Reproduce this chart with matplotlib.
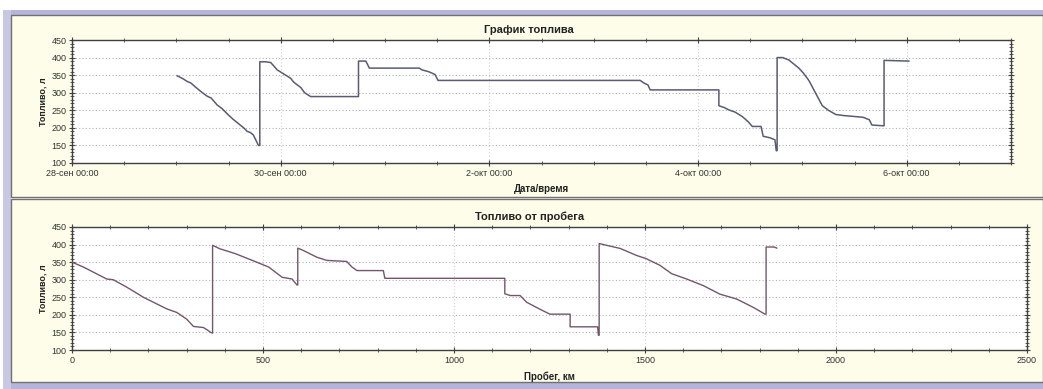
import datetime as dt
import matplotlib
matplotlib.use("Agg")
import matplotlib.pyplot as plt
import matplotlib.dates as mdates
from matplotlib.patches import Rectangle
from matplotlib.ticker import MultipleLocator, FuncFormatter

plt.rcParams["font.family"] = ["Liberation Sans", "DejaVu Sans"]

# -----------------------------------------------------------------------
# Data
# -----------------------------------------------------------------------
start_time = dt.datetime(2010, 9, 28, 0, 0)

# top chart: hours since 28-сен 00:00 and fuel level, litres
fuel_hours = [
    24.2, 25.5, 26.5, 27.3, 28.8, 30.0, 31.1, 32.0, 33.4, 34.5, 35.7, 37.0,
    38.0, 39.5, 40.3, 41.0, 41.7, 42.5, 42.9, 43.2, 43.2, 44.5, 45.7, 46.5,
    47.2, 48.5, 50.3, 51.0, 52.6, 53.5, 54.9, 65.9, 65.9, 67.6, 68.4, 79.9,
    80.5, 82.0, 83.5, 84.2, 130.7, 131.5, 132.5, 133.0, 148.8, 148.8, 150.0,
    151.1, 152.5, 154.2, 155.5, 156.5, 158.5, 159.0, 160.5, 161.7, 162.0,
    162.2, 162.2, 163.5, 164.9, 166.0, 167.2, 168.3, 169.5, 171.0, 172.6,
    174.0, 175.7, 177.5, 180.3, 182.0, 183.4, 184.0, 186.5, 186.8, 186.8,
    192.5,
]
fuel_by_time = [
    348, 340, 332, 328, 312, 300, 290, 285, 265, 255, 240, 225,
    215, 200, 190, 187, 180, 160, 150, 150, 388, 388, 386, 375,
    365, 355, 341, 330, 315, 300, 289, 289, 390, 390, 370, 370,
    365, 360, 352, 335, 335, 328, 322, 308, 308, 263, 258,
    251, 245, 232, 218, 204, 204, 176, 172, 166, 135,
    135, 400, 400, 393, 382, 370, 355, 335, 300, 263,
    250, 238, 235, 232, 230, 223, 208, 206, 206, 392,
    390,
]

# bottom chart: mileage, km and fuel level, litres
mileage_km = [
    0, 30, 73, 91, 108, 143, 187, 213, 248, 274, 300, 318, 344, 357, 363,
    368, 368, 387, 428, 472, 515, 550, 576, 589, 591, 591, 606, 641, 667,
    719, 733, 746, 815, 819, 1133, 1133, 1147, 1173, 1190, 1225, 1251, 1304,
    1304, 1376, 1378, 1380, 1380, 1391, 1435, 1478, 1503, 1539, 1570, 1609,
    1653, 1696, 1740, 1784, 1814, 1817, 1817, 1838, 1845,
]
fuel_by_km = [
    350, 336, 312, 302, 300, 279, 250, 236, 217, 207, 188, 167, 164, 155, 150,
    148, 398, 388, 374, 355, 336, 307, 302, 285, 285, 390, 383, 364, 355,
    352, 336, 326, 326, 304, 304, 260, 255, 255, 236, 216, 202, 202,
    166, 166, 142, 142, 403, 400, 389, 369, 360, 341, 317, 302,
    283, 259, 245, 221, 202, 202, 393, 393, 390,
]

ru_months = ["", "янв", "фев", "мар", "апр", "май", "июн",
             "июл", "авг", "сен", "окт", "ноя", "дек"]

W, H = 1043, 389
fig = plt.figure(figsize=(W / 100, H / 100), dpi=100, facecolor="white")


def fx(px):
    return px / W


def fy(py):
    return 1 - py / H


def frame_rect(x0, y0, x1, y1, **kw):
    fig.patches.append(Rectangle((fx(x0), fy(y1)), fx(x1) - fx(x0), fy(y0) - fy(y1),
                                 transform=fig.transFigure, zorder=-5, **kw))


# window frame: lavender bands and cream panels
frame_rect(3, 10, 1043, 15, facecolor="#b4b4dc", edgecolor="none")
frame_rect(3, 382, 1043, 389, facecolor="#b4b4dc", edgecolor="none")
frame_rect(3, 10, 11, 389, facecolor="#c8c8e4", edgecolor="none")
frame_rect(11, 15, 1043, 197, facecolor="#fdfde9", edgecolor="#707070", linewidth=1.0)
frame_rect(11, 199, 1043, 382, facecolor="#fdfde9", edgecolor="#707070", linewidth=1.0)

ax1 = fig.add_axes([fx(72), fy(163), fx(1011) - fx(72), fy(40) - fy(163)])
ax2 = fig.add_axes([fx(72), fy(350), fx(1027) - fx(72), fy(227) - fy(350)])

times = [mdates.date2num(start_time + dt.timedelta(hours=h)) for h in fuel_hours]
ax1.plot(times, fuel_by_time, color="#5a5b72", linewidth=1.1, zorder=3)
ax2.plot(mileage_km, fuel_by_km, color="#73566c", linewidth=1.0, zorder=3)

# x axes
x0 = mdates.date2num(start_time)
ax1.set_xlim(x0, x0 + 9)
ax1.xaxis.set_major_locator(MultipleLocator(2))
ax1.xaxis.set_minor_locator(MultipleLocator(0.5))


def ru_date(v, pos):
    d = mdates.num2date(v)
    return f"{d.day}-{ru_months[d.month]} {d:%H:%M}"


ax1.xaxis.set_major_formatter(FuncFormatter(ru_date))

ax2.set_xlim(0, 2500)
ax2.xaxis.set_major_locator(MultipleLocator(500))
ax2.xaxis.set_minor_locator(MultipleLocator(100))

# titles sit a little left of the axes centre in the reference
for ax, title, title_x, xlabel in [(ax1, "График топлива", 0.487, "Дата/время"),
                                   (ax2, "Топливо от пробега", 0.479, "Пробег, км")]:
    ax.set_zorder(2)
    ax.set_facecolor("white")
    ax.set_ylim(100, 450)
    ax.yaxis.set_major_locator(MultipleLocator(50))
    ax.yaxis.set_minor_locator(MultipleLocator(10))
    ax.grid(True, axis="y", which="major", color="#b0b0b0", linestyle=(0, (1, 2)), linewidth=0.8)
    ax.grid(True, axis="x", which="major", color="#d0d0d0", linestyle=(0, (1, 2)), linewidth=0.8)
    ax.tick_params(which="both", direction="inout", top=True, right=True,
                   labelsize=6.5, labelcolor="#333333", color="#404040", pad=2)
    ax.tick_params(which="major", length=4)
    ax.tick_params(which="minor", length=2.5)
    for s in ax.spines.values():
        s.set_color("#404040")
        s.set_linewidth(1.0)
    ax.set_title(title, x=title_x, fontsize=8, fontweight="bold", color="#222222", pad=5)
    ax.set_xlabel(xlabel, fontsize=7, fontweight="bold", color="#222222", labelpad=5)
    ax.set_ylabel("Топливо, л", fontsize=6.5, fontweight="bold", color="#222222", labelpad=3)

fig.savefig("out.png", dpi=100, facecolor=fig.get_facecolor())
